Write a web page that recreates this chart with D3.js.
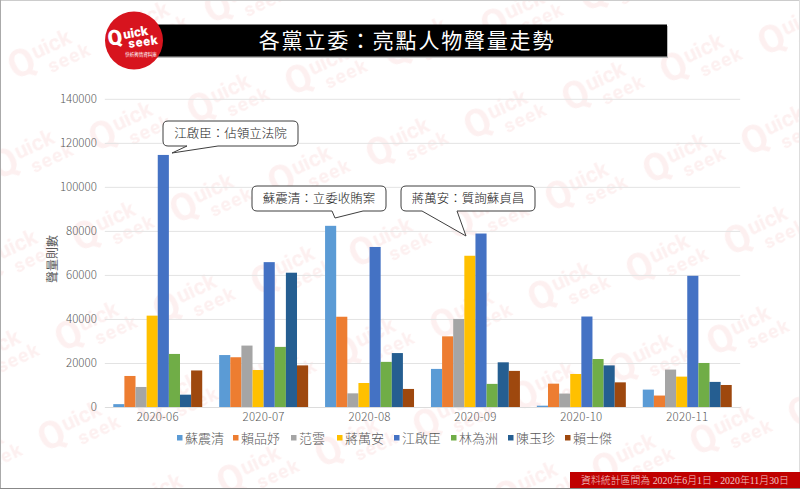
<!DOCTYPE html>
<html><head><meta charset="utf-8">
<style>html,body{margin:0;padding:0;background:#fff}svg{display:block}</style>
<script src="https://cdn.jsdelivr.net/npm/d3@7"></script></head><body>
<svg id="c" width="800" height="489"></svg>
<script>
const months=["2020-06","2020-07","2020-08","2020-09","2020-10","2020-11"];
const names=["蘇震清","賴品妤","范雲","蔣萬安","江啟臣","林為洲","陳玉珍","賴士傑"];
const colors=["#5b9bd5","#ed7d31","#a5a5a5","#ffc000","#4472c4","#70ad47","#255e91","#9e480e"];
const v0=[1300,23600,82300,17300,600,7900];
const v1=[14100,22600,41000,32100,10600,5200];
const v2=[9100,27900,6200,40000,6100,17000];
const v3=[41500,16800,10900,68700,15000,13800];
const v4=[114500,65800,72700,78800,41100,59600];
const v5=[24100,27300,20500,10500,21800,20000];
const v6=[5600,61000,24500,20300,18900,11400];
const v7=[16600,18900,8200,16400,11200,10000];
const series=[v0,v1,v2,v3,v4,v5,v6,v7];
const yTicks=[0,20000,40000,60000,80000,100000,120000,140000];
const notes=["江啟臣：佔領立法院","蘇震清：立委收賄案","蔣萬安：質詢蘇貞昌"];
const legendX=[177,233,291,337,394,451,508,565];

const F='"Noto Sans CJK TC","Noto Sans",sans-serif';
const svg=d3.select("#c");
svg.append("rect").attr("width",800).attr("height",489).attr("fill","#fff");

// watermark tile, repeated on a slanted lattice
const ax=98,ay=-28,bx=-17,by=100,T=200,det=ax*by-ay*bx;
const pat=svg.append("defs").append("pattern").attr("id","wm").attr("patternUnits","userSpaceOnUse")
  .attr("width",T).attr("height",T)
  .attr("patternTransform",`matrix(${ax/T},${ay/T},${bx/T},${by/T},${683-(ax+bx)/2},${160-(ay+by)/2})`);
const inv=[by/det*T,-ay/det*T,-bx/det*T,ax/det*T];
const mark=pat.append("g").attr("transform",`matrix(${inv.join(",")},${T/2},${T/2}) rotate(-25)`)
  .attr("fill","#fdf0f0").attr("font-family","Roboto,sans-serif").attr("font-weight",700);
mark.append("text").attr("x",-40).attr("y",8).attr("font-size",38).text("Q");
mark.append("text").attr("x",-13).attr("y",-2).attr("font-size",22).text("uick");
mark.append("text").attr("x",-4).attr("y",17).attr("font-size",19).attr("letter-spacing",1.2).text("seek");
svg.append("rect").attr("width",800).attr("height",489).attr("fill","url(#wm)");

// frame
svg.append("rect").attr("x",0).attr("y",0).attr("width",800).attr("height",1).attr("fill","#ccc");
svg.append("rect").attr("x",0).attr("y",0).attr("width",1).attr("height",489).attr("fill","#aaa");
svg.append("rect").attr("x",799).attr("y",0).attr("width",1).attr("height",489).attr("fill","#ddd");
svg.append("rect").attr("x",0).attr("y",488).attr("width",800).attr("height",1).attr("fill","#888");

const x=d3.scaleBand().domain(months).range([104.8,740.2]).paddingInner(0.16).paddingOuter(0.08);
const x1=d3.scaleBand().domain(d3.range(names.length)).range([0,x.bandwidth()]);
const y=d3.scaleLinear().domain([0,140000]).range([407,98.8]);

// grid + axes
const gy=svg.append("g").attr("transform","translate(104.8,0)").call(d3.axisLeft(y).tickValues(yTicks).tickFormat(d3.format("d")).tickSize(-635.4).tickPadding(8));
gy.select(".domain").remove();
gy.selectAll("line").attr("stroke","#e3e3e3");
gy.selectAll("text").attr("font-family",F).attr("font-size",11.5).attr("fill","#595959").attr("font-weight",300);

// bars
const gs=svg.append("g").selectAll("g").data(series).join("g").attr("fill",(d,i)=>colors[i]);
gs.each(function(vals,si){
  d3.select(this).selectAll("rect").data(vals).join("rect")
    .attr("x",(d,i)=>x(months[i])+x1(si)).attr("width",x1.bandwidth())
    .attr("y",d=>y(d)).attr("height",d=>y(0)-y(d));
});
const gx=svg.append("g").attr("transform","translate(0,407)").call(d3.axisBottom(x).tickSize(0).tickPadding(6));
gx.select(".domain").attr("stroke","#dcdcdc");
gx.selectAll("text").attr("font-family",F).attr("font-size",11.5).attr("fill","#595959").attr("font-weight",300).attr("letter-spacing",.2);

svg.append("text").attr("transform","translate(57,259) rotate(-90)").attr("text-anchor","middle")
  .attr("font-family",F).attr("font-size",12).attr("fill","#595959").text("聲量則數");

// legend
const lg=svg.append("g").selectAll("g").data(names).join("g").attr("transform",(d,i)=>`translate(${legendX[i]},438)`);
lg.append("rect").attr("x",0).attr("y",-3).attr("width",5.5).attr("height",5.5).attr("fill",(d,i)=>colors[i]);
lg.append("text").attr("x",8).attr("y",4.5).attr("font-family",F).attr("font-size",13).attr("font-weight",300).attr("fill","#595959").text(d=>d);

// callouts
const boxes=[[163,298,121,146,187,172,153,218],[252,386,186,211,332,335,218,363],[401,535,186,211,422,466,236,457]];
boxes.forEach((b,i)=>{
  const [l,r,t,bt,b1,tx,ty,b2]=b,c=5;
  const p=`M${l+c},${t}H${r-c}Q${r},${t} ${r},${t+c}V${bt-c}Q${r},${bt} ${r-c},${bt}H${b2}L${tx},${ty}L${b1},${bt}H${l+c}Q${l},${bt} ${l},${bt-c}V${t+c}Q${l},${t} ${l+c},${t}Z`;
  svg.append("path").attr("d",p).attr("fill","#fff").attr("stroke","#3f3f3f").attr("stroke-width",1);
  svg.append("text").attr("x",(l+r)/2).attr("y",(t+bt)/2+4.5).attr("text-anchor","middle").attr("font-family",F).attr("font-size",12.5).attr("font-weight",300).attr("fill","#222").text(notes[i]);
});

// header
svg.append("rect").attr("x",140).attr("y",26).attr("width",528).attr("height",32).attr("fill","#bbb");
svg.append("rect").attr("x",140).attr("y",24.5).attr("width",527).attr("height",32).attr("fill","#000");
svg.append("text").attr("x",407).attr("y",48).attr("text-anchor","middle").attr("font-family",F).attr("font-size",21).attr("font-weight",400).attr("letter-spacing",1.8).attr("fill","#fff").text("各黨立委：亮點人物聲量走勢");
svg.append("circle").attr("cx",134).attr("cy",40.5).attr("r",29).attr("fill","#d7141e");
const L=svg.append("g").attr("font-family","Roboto,sans-serif").attr("font-weight",900).attr("fill","#fff");
L.append("text").attr("x",109).attr("y",46).attr("transform","rotate(-10 109 46)").attr("font-size",21).text("Q");
L.append("text").attr("x",124).attr("y",39).attr("transform","rotate(-10 124 39)").attr("font-size",13).text("uick");
L.append("text").attr("x",129).attr("y",48).attr("transform","rotate(-8 129 48)").attr("font-size",12.5).attr("letter-spacing",.8).text("seek");
svg.append("text").attr("x",141).attr("y",56).attr("text-anchor","middle").attr("font-family",F).attr("font-size",4.5).attr("fill","#fff").text("快析輿情資料庫");

// footer
svg.append("rect").attr("x",570).attr("y",472).attr("width",230).attr("height",16).attr("fill","#c00000");
svg.append("text").attr("x",685).attr("y",484).attr("text-anchor","middle").attr("font-family",'"Liberation Serif","Noto Sans CJK TC",serif').attr("font-size",9.9).attr("font-weight",300).attr("fill","#f0c8c8").text("資料統計區間為 2020年6月1日 - 2020年11月30日");
</script></body></html>
